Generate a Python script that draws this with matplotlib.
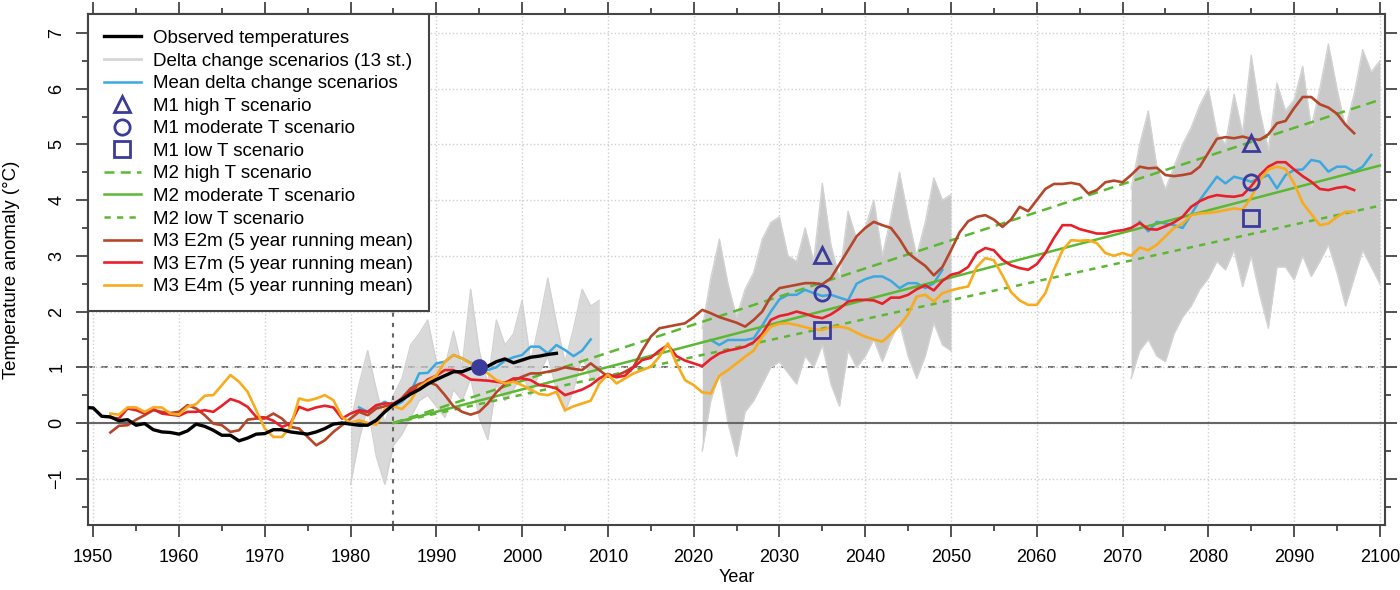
import matplotlib.pyplot as plt
import numpy as np

plt.rcParams['font.family'] = ['Liberation Sans', 'DejaVu Sans']
plt.rcParams['font.size'] = 13

# observed temperature anomaly (smoothed)
obs_years = np.arange(1949, 2005)
obs_temp = [0.28, 0.27, 0.12, 0.11, 0.04, 0.06, -0.04, -0.01, -0.12, -0.16,
            -0.17, -0.20, -0.14, -0.02, -0.06, -0.13, -0.22, -0.22, -0.32, -0.27,
            -0.20, -0.19, -0.12, -0.12, -0.16, -0.18, -0.20, -0.16, -0.10, -0.02,
            0.00, -0.02, -0.04, -0.04, 0.05, 0.20, 0.33, 0.42, 0.52, 0.60,
            0.70, 0.78, 0.85, 0.92, 0.92, 0.98, 1.00, 1.02, 1.10, 1.15,
            1.08, 1.13, 1.18, 1.20, 1.23, 1.25]

# delta change scenarios, upper / lower edge of the bundle in the 3 windows
dc_years1 = np.arange(1980, 2010)
dc_hi1 = [0.0, 0.7, 1.3, 0.6, 0.0, 0.5, 0.8, 1.4, 1.6, 1.85, 1.1, 1.0, 1.65, 1.0, 2.4,
          1.3, 0.7, 1.85, 1.4, 1.6, 2.2, 1.1, 1.8, 2.6, 1.8, 1.1, 1.7, 2.4, 2.1, 2.2]
dc_lo1 = [-1.1, -0.3, 0.3, -0.6, -1.1, -0.4, -0.2, 0.1, 0.4, 0.5, 0.3, 0.1, 0.6, 0.4, 0.8,
          0.1, -0.3, 0.7, 0.4, 0.6, 0.9, 0.5, 0.9, 1.2, 0.6, 0.2, 0.6, 1.2, 0.8, 0.7]
dc_years2 = np.arange(2021, 2051)
dc_hi2 = [1.7, 2.6, 3.3, 2.5, 1.9, 2.4, 2.7, 3.3, 3.6, 3.7, 3.0, 2.9, 3.5, 2.9, 4.3,
          3.2, 2.6, 3.8, 3.3, 3.5, 4.0, 3.0, 3.7, 4.5, 3.7, 3.0, 3.6, 4.4, 4.0, 4.1]
dc_lo2 = [-0.5, 0.4, 0.9, 0.0, -0.6, 0.2, 0.4, 0.7, 1.0, 1.1, 0.9, 0.7, 1.2, 1.0, 1.4,
          0.7, 0.3, 1.3, 1.0, 1.2, 1.5, 1.1, 1.5, 1.8, 1.2, 0.8, 1.2, 1.8, 1.4, 1.3]
dc_years3 = np.arange(2071, 2101)
dc_hi3 = [4.2, 5.0, 5.6, 4.6, 4.2, 4.6, 5.0, 5.3, 5.7, 6.0, 5.2, 5.0, 5.9, 5.2, 6.6,
          5.6, 4.9, 6.1, 5.6, 5.8, 6.4, 5.3, 6.0, 6.8, 6.0, 5.3, 5.9, 6.7, 6.3, 6.5]
dc_lo3 = [0.8, 1.3, 1.5, 1.2, 1.1, 1.6, 1.9, 2.1, 2.4, 2.6, 2.9, 2.75, 3.1, 2.45, 3.0,
          2.3, 1.7, 2.8, 2.8, 2.57, 3.0, 2.63, 2.9, 3.2, 2.7, 2.1, 2.6, 3.1, 2.8, 2.5]

# mean of the delta change scenarios
mean_years1 = np.arange(1981, 2009)
mean_dc1 = [0.28, 0.20, 0.30, 0.38, 0.30, 0.38, 0.55, 0.89, 0.90, 1.07, 1.10, 1.22, 1.16, 1.08,
            1.05, 0.95, 1.00, 1.12, 1.18, 1.22, 1.37, 1.37, 1.25, 1.40, 1.31, 1.20, 1.30, 1.50]
mean_years2 = np.arange(2022, 2050)
mean_dc2 = [1.49, 1.40, 1.49, 1.49, 1.49, 1.52, 1.75, 2.00, 2.22, 2.30, 2.30, 2.39, 2.33, 2.28,
            2.30, 2.25, 2.20, 2.50, 2.58, 2.63, 2.63, 2.55, 2.42, 2.51, 2.51, 2.42, 2.51, 2.75]
mean_years3 = np.arange(2072, 2100)
mean_dc3 = [3.61, 3.44, 3.61, 3.58, 3.55, 3.50, 3.74, 4.00, 4.21, 4.42, 4.30, 4.42, 4.38, 4.33,
            4.39, 4.45, 4.21, 4.45, 4.54, 4.55, 4.72, 4.69, 4.51, 4.60, 4.60, 4.51, 4.60, 4.81]

# M1 scenarios
m1_years = [2035, 2085]
m1_high = [3.02, 5.02]
m1_mod = [2.33, 4.33]
m1_low = [1.67, 3.67]
ref_year = [1995]
ref_temp = [1.0]

# M2 linear scenarios
m2_years = [1985, 2100]
m2_high = [0.0, 5.8]
m2_mod = [0.0, 4.62]
m2_low = [0.0, 3.9]

# M3 runs, 5 year running mean
m3_years = np.arange(1952, 2098)
e2m = [-0.17, -0.05, -0.04, 0.06, 0.14, 0.23, 0.20, 0.18, 0.20, 0.32,
       0.26, 0.14, -0.01, -0.04, -0.16, -0.13, 0.06, 0.08, 0.08, 0.17,
       0.08, -0.07, -0.10, -0.25, -0.40, -0.31, -0.16, -0.04, 0.08, 0.20,
       0.14, 0.26, 0.30, 0.30, 0.45, 0.62, 0.70, 0.74, 0.68, 0.50,
       0.30, 0.20, 0.15, 0.20, 0.35, 0.55, 0.70, 0.76, 0.83, 0.89,
       0.89, 0.92, 0.95, 1.00, 0.97, 0.95, 1.07, 0.95, 0.83, 0.85,
       0.92, 1.01, 1.30, 1.55, 1.70, 1.73, 1.76, 1.79, 1.90, 2.03,
       1.97, 1.90, 1.85, 1.80, 1.73, 1.85, 2.00, 2.27, 2.42, 2.45,
       2.48, 2.51, 2.51, 2.49, 2.60, 2.85, 3.10, 3.35, 3.50, 3.61,
       3.55, 3.50, 3.30, 3.05, 2.93, 2.82, 2.65, 2.80, 3.10, 3.42,
       3.62, 3.70, 3.73, 3.65, 3.52, 3.65, 3.88, 3.80, 4.00, 4.20,
       4.29, 4.29, 4.31, 4.28, 4.12, 4.18, 4.32, 4.35, 4.32, 4.45,
       4.60, 4.57, 4.58, 4.45, 4.43, 4.45, 4.48, 4.60, 4.85, 5.10,
       5.13, 5.11, 5.14, 5.10, 5.08, 5.18, 5.38, 5.42, 5.65, 5.85,
       5.85, 5.72, 5.66, 5.55, 5.35, 5.20]
e7m = [0.10, 0.08, 0.26, 0.23, 0.17, 0.25, 0.17, 0.15, 0.13, 0.20,
       0.20, 0.23, 0.20, 0.31, 0.43, 0.38, 0.29, 0.11, 0.10, 0.04,
       -0.07, -0.01, 0.29, 0.23, 0.28, 0.31, 0.28, 0.08, 0.17, 0.23,
       0.20, 0.32, 0.35, 0.35, 0.44, 0.56, 0.65, 0.78, 0.85, 0.95,
       0.95, 0.87, 0.78, 0.77, 0.76, 0.74, 0.72, 0.80, 0.80, 0.77,
       0.68, 0.66, 0.62, 0.50, 0.55, 0.60, 0.68, 0.80, 0.88, 0.82,
       0.85, 1.00, 1.13, 1.17, 1.30, 1.40, 1.20, 1.12, 1.07, 1.02,
       1.15, 1.25, 1.30, 1.33, 1.37, 1.45, 1.60, 1.85, 1.92, 1.95,
       2.00, 1.96, 1.91, 1.88, 1.95, 2.05, 2.18, 2.21, 2.21, 2.20,
       2.14, 2.25, 2.25, 2.30, 2.40, 2.47, 2.38, 2.55, 2.66, 2.70,
       2.80, 3.05, 3.14, 3.10, 2.93, 2.83, 2.78, 2.75, 2.85, 3.05,
       3.32, 3.55, 3.55, 3.48, 3.44, 3.40, 3.40, 3.44, 3.46, 3.50,
       3.59, 3.48, 3.47, 3.53, 3.60, 3.70, 3.88, 3.98, 4.05, 4.09,
       4.07, 4.06, 4.09, 4.25, 4.45, 4.60, 4.68, 4.68, 4.55, 4.43,
       4.33, 4.20, 4.18, 4.22, 4.24, 4.18]
e4m = [0.17, 0.15, 0.28, 0.28, 0.20, 0.28, 0.28, 0.17, 0.15, 0.29,
       0.34, 0.49, 0.50, 0.68, 0.86, 0.74, 0.56, 0.23, -0.10, -0.25,
       -0.25, -0.07, 0.44, 0.40, 0.44, 0.50, 0.41, 0.11, 0.00, 0.05,
       0.00, -0.03, 0.25, 0.30, 0.25, 0.40, 0.65, 0.75, 0.85, 1.10,
       1.22, 1.16, 1.07, 1.00, 0.89, 0.77, 0.71, 0.74, 0.68, 0.60,
       0.52, 0.50, 0.56, 0.23, 0.30, 0.35, 0.40, 0.71, 0.87, 0.71,
       0.80, 0.89, 0.95, 1.01, 1.19, 1.43, 1.07, 0.77, 0.68, 0.55,
       0.53, 0.85, 0.95, 1.07, 1.19, 1.30, 1.55, 1.73, 1.78, 1.79,
       1.76, 1.72, 1.68, 1.67, 1.72, 1.73, 1.70, 1.62, 1.55, 1.50,
       1.46, 1.60, 1.75, 1.95, 2.27, 2.30, 2.18, 2.33, 2.38, 2.42,
       2.45, 2.80, 2.96, 2.92, 2.65, 2.35, 2.20, 2.12, 2.12, 2.33,
       2.75, 3.10, 3.28, 3.27, 3.28, 3.23, 3.05, 3.00, 3.05, 3.00,
       3.15, 3.10, 3.20, 3.35, 3.50, 3.58, 3.73, 3.76, 3.77, 3.79,
       3.82, 3.85, 3.83, 4.05, 4.35, 4.55, 4.60, 4.56, 4.30, 3.95,
       3.75, 3.55, 3.58, 3.70, 3.79, 3.79]

navy = '#3b3b9c'
green = '#5cb832'
grey = '#c9c9c9'

fig = plt.figure(figsize=(14, 5.9), dpi=100)
ax = fig.add_axes([0.0629, 0.1102, 0.9264, 0.8661])

ax.axhline(1, color='#555555', lw=1.2, ls=(0, (4, 4)), zorder=0.5)

windows = [(dc_years1, dc_hi1, dc_lo1, 0.7), (dc_years2, dc_hi2, dc_lo2, 1.0),
           (dc_years3, dc_hi3, dc_lo3, 1.0)]
for yrs, hi, lo, a in windows:
    ax.fill_between(yrs, lo, hi, color=grey, alpha=a, lw=0, zorder=1)
    ax.plot(yrs, hi, color='#d2d2d2', lw=1, zorder=1)
    ax.plot(yrs, lo, color='#d2d2d2', lw=1, zorder=1)

ax.axhline(0, color='#666666', lw=1.5, zorder=2)
ax.axvline(1985, color='#666666', lw=1.5, ls=(0, (2, 3)), zorder=2)

ax.plot(obs_years, obs_temp, color='black', lw=2.4, zorder=6, label='Observed temperatures')
ax.plot([], [], color='#d6d6d6', lw=2, label='Delta change scenarios (13 st.)')
ax.plot(mean_years1, mean_dc1, color='#3ba8e0', lw=1.8, zorder=3, label='Mean delta change scenarios')
ax.plot(mean_years2, mean_dc2, color='#3ba8e0', lw=1.8, zorder=3)
ax.plot(mean_years3, mean_dc3, color='#3ba8e0', lw=1.8, zorder=3)

ax.plot(m1_years, m1_high, ls='none', marker='^', ms=12, mfc='none', mec=navy, mew=2,
        zorder=7, label='M1 high T scenario')
ax.plot(m1_years, m1_mod, ls='none', marker='o', ms=11, mfc='none', mec=navy, mew=2,
        zorder=7, label='M1 moderate T scenario')
ax.plot(m1_years, m1_low, ls='none', marker='s', ms=11, mfc='none', mec=navy, mew=2,
        zorder=7, label='M1 low T scenario')
ax.plot(ref_year, ref_temp, ls='none', marker='o', ms=11, color=navy, zorder=7)

ax.plot(m2_years, m2_high, color=green, lw=1.8, ls=(0, (4, 2.5)), zorder=4, label='M2 high T scenario')
ax.plot(m2_years, m2_mod, color=green, lw=1.8, zorder=4, label='M2 moderate T scenario')
ax.plot(m2_years, m2_low, color=green, lw=1.8, ls=(0, (2.5, 2.5)), zorder=4, label='M2 low T scenario')

ax.plot(m3_years, e2m, color='#b5462a', lw=1.9, zorder=5, label='M3 E2m (5 year running mean)')
ax.plot(m3_years, e7m, color='#e8202a', lw=1.9, zorder=5, label='M3 E7m (5 year running mean)')
ax.plot(m3_years, e4m, color='#f8ab1c', lw=1.9, zorder=5, label='M3 E4m (5 year running mean)')

ax.set_xlim(1949.4, 2100.6)
ax.set_ylim(-1.83, 7.34)
ax.set_xticks(np.arange(1950, 2101, 10))
ax.set_xticks(np.arange(1955, 2100, 10), minor=True)
ax.set_yticks(np.arange(-1, 8))
ax.set_yticks(np.arange(-1.5, 7.5, 1), minor=True)
ax.grid(True, which='major', color='#d0d0d0', ls=':', lw=1)
ax.set_axisbelow(True)

ax.tick_params(which='both', direction='out', top=True, right=True, color='#444444', width=1.3)
ax.tick_params(which='major', length=8.5, pad=9, labelsize=13)
ax.tick_params(which='minor', length=4.5)
ax.tick_params(axis='y', labelrotation=90, pad=8)
for t in ax.get_yticklabels():
    t.set_va('center')
for s in ax.spines.values():
    s.set_color('#444444')
    s.set_linewidth(1.5)

ax.set_xlabel('Year', fontsize=13, labelpad=2)
ax.set_ylabel('Temperature anomaly (°C)', fontsize=13.4, labelpad=20)

leg = ax.legend(loc='upper left', bbox_to_anchor=(0, 1), borderaxespad=0, fontsize=13.5,
                frameon=True, fancybox=False, edgecolor='#444444', framealpha=1,
                handlelength=1.95, handletextpad=0.65, labelspacing=0.29, borderpad=0.85)
leg.get_frame().set_linewidth(1.5)

fig.savefig('out.png', dpi=100)
